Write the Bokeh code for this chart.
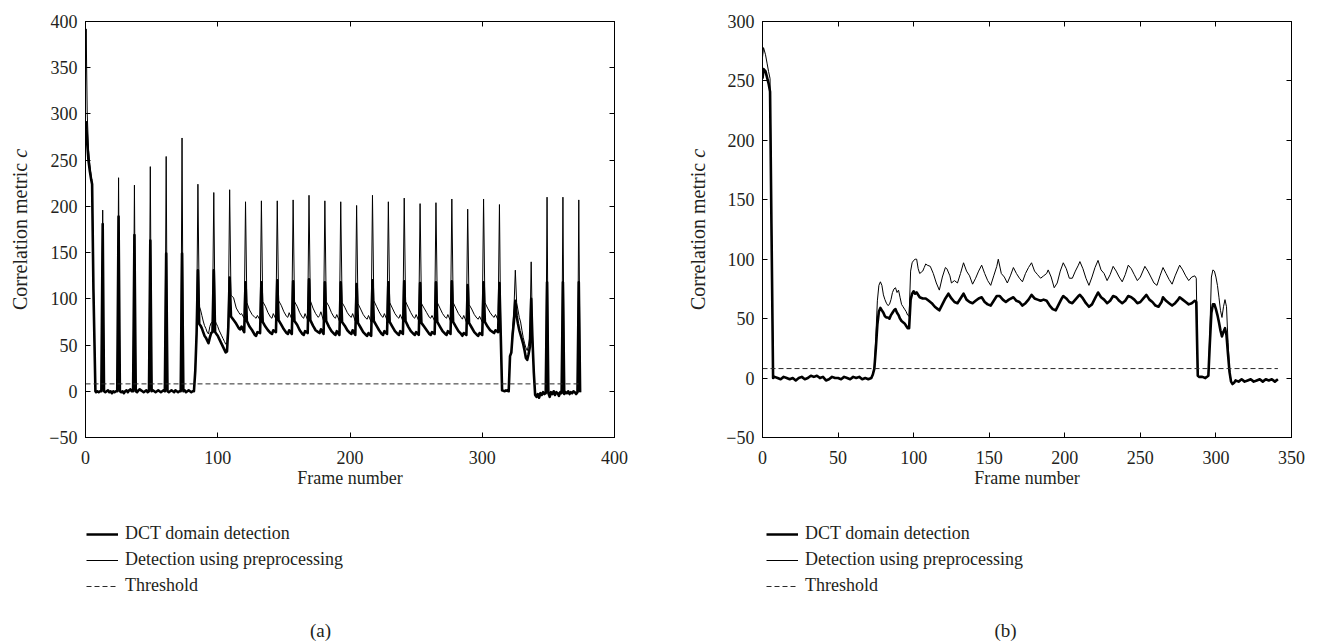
from math import pi
from bokeh.plotting import figure
from bokeh.models import Range1d, LinearAxis, Legend, LegendItem, Label, FixedTicker
from bokeh.layouts import row, column
from bokeh.embed import file_html
from bokeh.resources import INLINE

FONT = "Liberation Serif"
TXT = "#231f20"

# ---------------- data (frame, value) ----------------
threshold = 8

# panel (a)
a_dct = [
    (0, 283), (0.5, 291), (1.3, 268), (2.3, 249), (3.3, 238), (4.3, 229), (5, 224), (6, 110), (7.5, 0),
    (8, -1), (9, 0), (10, -1), (11, 0), (12, 0), (13, 181), (14, 0), (15, -1), (16, 0), (17, 1), (18, -1),
    (19, 0), (20, -2), (21, 0), (22, -1), (23, 0), (24, 0),
    (25, 189), (26, 0), (27, -1), (28, 0), (29, -2), (30, 0), (31, 1), (32, -1), (33, 1), (34, 2), (35, 0), (36, 0),
    (37, 169), (38, 0), (39, -1), (40, 1), (41, 2), (42, 1), (43, 0), (44, -1), (45, 0), (46, 1), (47, -1), (48, 0),
    (49, 163), (50, 0), (51, 1), (52, 0), (53, -1), (54, 0), (55, 1), (56, 0), (57, -1), (58, 0), (59, 1), (60, 0),
    (61, 149), (62, 0), (63, -1), (64, 0), (65, 1), (66, 0), (67, -1), (68, 1), (69, 0), (70, -1), (71, 0), (72, 0),
    (73, 149), (74, 0), (75, 1), (76, -1), (77, 0), (78, 1), (79, 0), (80, -1), (81, 0), (82, 0),
    (83, 22), (84, 62), (85, 131), (86, 73), (87, 71), (88, 68), (89, 64), (90, 60), (91, 58), (92, 55),
    (93, 52), (94, 58), (95, 63), (96, 64),
    (97, 131), (98, 64), (99, 62), (100, 60), (101, 57), (102, 54), (103, 51), (104, 48), (105, 45), (106, 42),
    (107, 43), (108, 70),
    (109, 123), (110, 81), (112, 77), (114, 73), (116, 68), (117, 67), (118, 70), (120, 64),
    (121, 118), (122, 76), (124, 70), (126, 66), (128, 61), (129, 60), (130, 64), (132, 63),
    (133, 118), (134, 75), (136, 70), (138, 66), (140, 63), (141, 62), (142, 66), (144, 64),
    (145, 120), (146, 77), (148, 72), (150, 67), (152, 63), (153, 62), (154, 66), (156, 62),
    (157, 119), (158, 76), (160, 72), (162, 66), (164, 62), (165, 61), (166, 65), (168, 63),
    (169, 121), (170, 77), (172, 71), (174, 66), (176, 64), (177, 63), (178, 67), (180, 62),
    (181, 118), (182, 76), (184, 70), (186, 65), (188, 62), (189, 61), (190, 65), (192, 61),
    (193, 118), (194, 75), (196, 71), (198, 66), (200, 63), (201, 62), (202, 66), (204, 61),
    (205, 116), (206, 74), (208, 69), (210, 64), (212, 61), (213, 60), (214, 63), (216, 60),
    (217, 120), (218, 76), (220, 71), (222, 66), (224, 62), (225, 61), (226, 65), (228, 62),
    (229, 118), (230, 75), (232, 70), (234, 65), (236, 62), (237, 61), (238, 65), (240, 62),
    (241, 119), (242, 76), (244, 70), (246, 65), (248, 62), (249, 61), (250, 64), (252, 61),
    (253, 117), (254, 74), (256, 70), (258, 66), (260, 62), (261, 61), (262, 64), (264, 62),
    (265, 118), (266, 75), (268, 70), (270, 65), (272, 62), (273, 61), (274, 65), (276, 62),
    (277, 119), (278, 75), (280, 70), (282, 65), (284, 62), (285, 60), (286, 63), (288, 61),
    (289, 115), (290, 74), (292, 69), (294, 64), (296, 61), (297, 60), (298, 63), (300, 61),
    (301, 118), (302, 75), (304, 70), (306, 66), (308, 64), (309, 63), (310, 66), (312, 64),
    (313, 117), (314, 60), (315, 1), (317, 0), (318, 1), (320, 0), (321, 38), (322, 42), (323, 62), (324, 76),
    (325, 98), (326, 82), (327, 73), (328, 66), (330, 56), (331, 51), (332, 44), (333, 36), (334, 34),
    (335, 40), (336, 48),
    (337, 100), (338, 55), (339, 20), (340, -4), (341, -6), (342, -3), (343, -7), (344, -2), (345, -4),
    (346, -1), (347, -3), (348, -2),
    (349, 118), (350, -2), (351, -6), (352, -1), (353, -3), (354, 0), (355, -4), (356, -1), (357, -2),
    (358, -5), (359, -1), (360, -2),
    (361, 118), (362, -3), (363, -1), (364, -2), (365, 0), (366, -3), (367, -1), (368, -2), (369, 0),
    (370, -1), (371, -3), (372, -1),
    (373, 118), (374, -1),
]

a_pre = [
    (0, 330), (0.5, 392), (1.3, 300), (2.3, 262), (3.3, 245), (4.3, 233), (5, 226), (6, 112), (7.5, 0),
    (8, -1), (9, 0), (10, -1), (11, 0), (12, 0), (13, 196), (14, 0), (15, -1), (16, 0), (17, 1), (18, -1),
    (19, 0), (20, -2), (21, 0), (22, -1), (23, 0), (24, 0),
    (25, 231), (26, 0), (27, -1), (28, 0), (29, -2), (30, 0), (31, 1), (32, -1), (33, 1), (34, 2), (35, 0), (36, 0),
    (37, 223), (38, 0), (39, -1), (40, 1), (41, 2), (42, 1), (43, 0), (44, -1), (45, 0), (46, 1), (47, -1), (48, 0),
    (49, 243), (50, 0), (51, 1), (52, 0), (53, -1), (54, 0), (55, 1), (56, 0), (57, -1), (58, 0), (59, 1), (60, 0),
    (61, 254), (62, 0), (63, -1), (64, 0), (65, 1), (66, 0), (67, -1), (68, 1), (69, 0), (70, -1), (71, 0), (72, 0),
    (73, 274), (74, 0), (75, 1), (76, -1), (77, 0), (78, 1), (79, 0), (80, -1), (81, 0), (82, 0),
    (83, 24), (84, 66), (85, 224), (86, 92), (87, 88), (88, 82), (89, 76), (90, 71), (91, 68), (92, 64),
    (93, 62), (94, 70), (95, 74), (96, 75),
    (97, 215), (98, 76), (99, 73), (100, 70), (101, 66), (102, 63), (103, 60), (104, 57), (105, 54), (106, 51),
    (107, 52), (108, 80),
    (109, 218), (110, 104), (112, 101), (114, 90), (116, 85), (117, 83), (118, 84), (120, 79),
    (121, 205), (122, 96), (124, 88), (126, 83), (128, 80), (129, 79), (130, 82), (132, 77),
    (133, 206), (134, 97), (136, 92), (138, 85), (140, 80), (141, 79), (142, 84), (144, 78),
    (145, 206), (146, 98), (148, 93), (150, 86), (152, 81), (153, 80), (154, 85), (156, 78),
    (157, 207), (158, 97), (160, 92), (162, 85), (164, 80), (165, 79), (166, 84), (168, 77),
    (169, 212), (170, 98), (172, 90), (174, 84), (176, 80), (177, 82), (178, 86), (180, 76),
    (181, 206), (182, 97), (184, 92), (186, 85), (188, 80), (189, 79), (190, 83), (192, 76),
    (193, 205), (194, 96), (196, 91), (198, 85), (200, 81), (201, 80), (202, 84), (204, 76),
    (205, 201), (206, 95), (208, 89), (210, 83), (212, 79), (213, 78), (214, 82), (216, 75),
    (217, 212), (218, 98), (220, 92), (222, 86), (224, 81), (225, 80), (226, 84), (228, 77),
    (229, 205), (230, 96), (232, 90), (234, 84), (236, 80), (237, 79), (238, 83), (240, 76),
    (241, 209), (242, 97), (244, 91), (246, 85), (248, 80), (249, 79), (250, 83), (252, 76),
    (253, 203), (254, 95), (256, 90), (258, 85), (260, 80), (261, 79), (262, 82), (264, 76),
    (265, 204), (266, 96), (268, 90), (270, 84), (272, 80), (273, 79), (274, 83), (276, 76),
    (277, 208), (278, 96), (280, 90), (282, 84), (284, 80), (285, 78), (286, 82), (288, 75),
    (289, 197), (290, 94), (292, 89), (294, 83), (296, 79), (297, 78), (298, 81), (300, 75),
    (301, 208), (302, 96), (304, 90), (306, 85), (308, 81), (309, 80), (310, 83), (312, 77),
    (313, 202), (314, 60), (315, 1), (317, 0), (318, 1), (320, 0), (321, 38), (322, 42), (323, 70), (324, 90),
    (325, 131), (326, 96), (327, 88), (328, 80), (329, 75), (330, 66), (331, 58), (332, 52), (333, 47),
    (334, 44), (335, 50), (336, 59),
    (337, 140), (338, 60), (339, 20), (340, -4), (341, -6), (342, -3), (343, -7), (344, -2), (345, -4),
    (346, -1), (347, -3), (348, -2),
    (349, 210), (350, -2), (351, -6), (352, -1), (353, -3), (354, 0), (355, -4), (356, -1), (357, -2),
    (358, -5), (359, -1), (360, -2),
    (361, 210), (362, -3), (363, -1), (364, -2), (365, 0), (366, -3), (367, -1), (368, -2), (369, 0),
    (370, -1), (371, -3), (372, -1),
    (373, 207), (374, -1),
]

# panel (b)
b_dct = [
    (0, 252), (0.7, 260), (2, 258), (3, 253), (4, 248), (5, 241), (6, 120), (7, 0), (8, 1), (10, 0),
    (12, -1), (14, 1), (16, 0), (18, -1), (20, 0), (22, -2), (24, 0), (26, 1), (28, -1), (30, 0), (32, 2),
    (34, 1), (36, 2), (38, 0), (40, 1), (42, -2), (44, -1), (46, 1), (48, 0), (50, 0), (52, -1), (54, 1),
    (56, 0), (58, -1), (60, 1), (62, 0), (64, 1), (66, -1), (68, 0), (70, -1), (72, 0),
    (73, 3), (74, 8), (75, 25), (76, 45), (77, 56), (78, 59), (79, 57), (80, 55), (81, 52), (82, 51),
    (83, 51), (84, 50), (85, 53), (86, 55), (87, 57), (88, 58), (89, 55), (90, 53), (91, 50), (92, 48),
    (93, 47), (94, 46), (95, 44), (96, 42), (97, 42),
    (98, 66), (99, 71), (100, 73), (101, 71), (102, 72), (104, 68), (106, 67), (108, 67), (110, 65),
    (112, 63), (114, 60), (116, 58), (117, 57), (119, 62), (121, 67), (123, 71), (125, 67), (127, 64),
    (129, 63), (131, 67), (133, 71), (135, 66), (137, 64), (139, 63), (141, 65), (143, 67), (145, 68),
    (147, 64), (149, 62), (151, 61), (153, 65), (155, 69), (157, 69), (159, 66), (161, 64), (163, 66),
    (166, 68), (168, 65), (170, 64), (172, 61), (174, 63), (176, 66), (178, 70), (180, 67), (182, 66),
    (184, 65), (186, 66), (188, 65), (190, 61), (192, 58), (194, 57), (196, 62), (198, 67), (199, 69),
    (201, 67), (203, 64), (205, 63), (207, 66), (209, 69), (210, 70), (212, 67), (214, 63), (216, 60),
    (218, 62), (220, 67), (222, 72), (224, 68), (226, 66), (228, 63), (230, 65), (232, 69), (234, 68),
    (236, 65), (238, 63), (240, 65), (242, 69), (244, 68), (246, 66), (248, 63), (250, 64), (252, 67),
    (254, 70), (256, 66), (258, 64), (260, 61), (262, 60), (264, 64), (265, 68), (267, 65), (269, 63),
    (271, 61), (273, 63), (275, 66), (276, 68), (278, 66), (280, 64), (282, 62), (284, 63), (286, 65),
    (287, 64),
    (288, 2), (289, 1), (291, 1), (293, 0), (295, 2), (296, 30), (297, 55), (298, 62), (299, 62), (300, 58),
    (301, 53), (302, 47), (303, 40), (304, 35), (305, 39), (306, 42), (307, 36), (308, 20), (309, 5),
    (310, -3), (311, -5), (312, -4), (313, -2), (315, -3), (317, -1), (319, -3), (321, -2), (323, -1),
    (325, -3), (327, -2), (329, -1), (331, -3), (333, -1), (335, -2), (337, -1), (339, -3), (341, -1),
]

b_pre = [
    (0, 270), (0.7, 278), (2, 272), (3, 265), (4, 258), (5, 252), (6, 125), (7, 0), (8, 1), (10, 0),
    (12, -1), (14, 1), (16, 0), (18, -1), (20, 0), (22, -2), (24, 0), (26, 1), (28, -1), (30, 0), (32, 2),
    (34, 1), (36, 2), (38, 0), (40, 1), (42, -2), (44, -1), (46, 1), (48, 0), (50, 0), (52, -1), (54, 1),
    (56, 0), (58, -1), (60, 1), (62, 0), (64, 1), (66, -1), (68, 0), (70, -1), (72, 0),
    (73, 3), (74, 10), (75, 35), (76, 65), (77, 78), (78, 81), (79, 78), (80, 70), (81, 66), (82, 63),
    (83, 61), (84, 62), (85, 66), (86, 72), (87, 75), (88, 76), (89, 72), (90, 74), (91, 68), (92, 62),
    (93, 60), (94, 58), (95, 56), (96, 53), (97, 52),
    (98, 90), (99, 97), (100, 99), (101, 100), (102, 100), (103, 92), (104, 88), (105, 89), (106, 90),
    (107, 93), (108, 96), (109, 95), (111, 94), (113, 88), (115, 80), (117, 74), (119, 85), (121, 93),
    (122, 92), (124, 86), (125, 80), (127, 82), (129, 80), (131, 88), (133, 97), (135, 90), (137, 86),
    (139, 79), (141, 84), (143, 90), (145, 95), (147, 88), (149, 82), (151, 78), (153, 86), (155, 94),
    (156, 100), (158, 88), (160, 85), (162, 80), (164, 86), (166, 93), (168, 88), (170, 84), (172, 81),
    (174, 88), (176, 93), (178, 97), (180, 90), (182, 87), (184, 84), (186, 86), (188, 88), (189, 91),
    (191, 85), (193, 76), (195, 80), (197, 90), (199, 97), (201, 92), (203, 84), (205, 84), (207, 90),
    (209, 95), (210, 98), (212, 92), (214, 84), (216, 78), (218, 85), (220, 93), (222, 99), (224, 91),
    (226, 88), (228, 82), (230, 87), (232, 94), (234, 90), (236, 85), (238, 81), (240, 87), (242, 95),
    (244, 92), (246, 87), (248, 82), (250, 85), (253, 94), (255, 90), (257, 85), (259, 80), (261, 78),
    (263, 86), (265, 93), (267, 88), (269, 83), (271, 79), (273, 86), (276, 95), (278, 91), (280, 86),
    (282, 82), (284, 85), (286, 86), (287, 84),
    (288, 2), (289, 1), (291, 1), (293, 0), (295, 2), (296, 40), (297, 85), (298, 91), (299, 90), (300, 85),
    (301, 78), (302, 68), (303, 57), (304, 51), (305, 60), (306, 66), (307, 60), (308, 30), (309, 8),
    (310, -3), (311, -5), (312, -4), (313, -2), (315, -3), (317, -1), (319, -3), (321, -2), (323, -1),
    (325, -3), (327, -2), (329, -1), (331, -3), (333, -1), (335, -2), (337, -1), (339, -3), (341, -1),
]

a_xticks = [0, 100, 200, 300, 400]
a_yticks = [-50, 0, 50, 100, 150, 200, 250, 300, 350, 400]
b_xticks = [0, 50, 100, 150, 200, 250, 300, 350]
b_yticks = [-50, 0, 50, 100, 150, 200, 250, 300]

legend_labels = ["DCT domain detection", "Detection using preprocessing", "Threshold"]
y_title = ["Correlation metric", "c"]
x_title = "Frame number"

PAGE_H = 642
TOP_H = 505
BOT_H = PAGE_H - TOP_H
FRAME_W = 529
NAN = float("nan")


def fmt(t):
    return f"\u2212{abs(t)}" if t < 0 else str(t)


def style_axis(ax, ticks, show, standoff=7):
    ax.ticker = FixedTicker(ticks=ticks)
    ax.major_tick_in = 5
    ax.major_tick_out = 0
    ax.minor_tick_line_color = None
    ax.axis_line_color = "black"
    ax.axis_line_width = 1
    ax.major_tick_line_color = "black"
    ax.major_label_text_font = FONT
    ax.major_label_text_font_size = "18px"
    ax.major_label_text_color = TXT
    if show:
        ax.major_label_overrides = {t: fmt(t) for t in ticks}
        ax.major_label_standoff = standoff
    else:
        ax.major_label_overrides = {t: "" for t in ticks}
        ax.major_label_standoff = 0


def make_plot(dct, pre, xticks, yticks, width, bl, br):
    p = figure(width=width, height=TOP_H,
               x_range=Range1d(xticks[0], xticks[-1]), y_range=Range1d(yticks[0], yticks[-1]),
               output_backend="svg", toolbar_location=None,
               min_border_left=bl, min_border_right=br, min_border_top=21,
               min_border_bottom=TOP_H - 21 - 416)
    p.xgrid.visible = False
    p.ygrid.visible = False
    p.outline_line_color = "black"

    xa = p.xaxis[0]
    style_axis(xa, xticks, True, standoff=13)
    xa.axis_label = x_title
    xa.axis_label_text_font = FONT
    xa.axis_label_text_font_size = "18px"
    xa.axis_label_text_font_style = "normal"
    xa.axis_label_text_color = TXT
    xa.axis_label_standoff = 1

    style_axis(p.yaxis[0], yticks, True, standoff=8)

    top = LinearAxis()
    style_axis(top, xticks, False)
    p.add_layout(top, "above")
    right = LinearAxis()
    style_axis(right, yticks, False)
    p.add_layout(right, "right")

    dx = [f for f, v in dct]
    dy = [v for f, v in dct]
    px = [f for f, v in pre]
    py = [v for f, v in pre]
    p.line(dx, dy, line_color="black", line_width=2.6, line_join="round")
    p.line(px, py, line_color="black", line_width=1, line_join="round")
    p.line([dx[0], dx[-1]], [threshold, threshold], line_color="#2a2a2a",
           line_width=1, line_dash="5 3")
    return p


def make_bottom(width, bl, br, leg_x, cap_x, caption):
    b = figure(width=width, height=BOT_H, x_range=Range1d(0, FRAME_W), y_range=Range1d(BOT_H, 0),
               output_backend="svg", toolbar_location=None,
               min_border_left=bl, min_border_right=br, min_border_top=0, min_border_bottom=0,
               x_axis_location=None, y_axis_location=None)
    b.outline_line_color = None
    b.xgrid.visible = False
    b.ygrid.visible = False
    # legend proxies (no visible points)
    r1 = b.line([0, 1], [NAN, NAN], line_color="black", line_width=2.6)
    r2 = b.line([0, 1], [NAN, NAN], line_color="black", line_width=1)
    r3 = b.line([0, 1], [NAN, NAN], line_color="#2a2a2a", line_width=1, line_dash="5 3")
    legend = Legend(items=[LegendItem(label=legend_labels[0], renderers=[r1]),
                           LegendItem(label=legend_labels[1], renderers=[r2]),
                           LegendItem(label=legend_labels[2], renderers=[r3])],
                    location=(leg_x, BOT_H - 91), orientation="vertical",
                    label_text_font=FONT, label_text_font_size="18px", label_text_color=TXT,
                    glyph_width=32, glyph_height=20, label_height=20, spacing=5,
                    padding=0, margin=0, border_line_color=None, background_fill_alpha=0,
                    label_standoff=7)
    b.add_layout(legend)
    b.add_layout(Label(x=cap_x, y=125, text=caption, text_align="center", text_baseline="middle",
                       text_font=FONT, text_font_size="19px", text_color=TXT))
    return b


def make_ylabel(width, cx):
    f = figure(width=width, height=PAGE_H, x_range=Range1d(0, width), y_range=Range1d(PAGE_H, 0),
               output_backend="svg", toolbar_location=None, min_border=0,
               x_axis_location=None, y_axis_location=None)
    f.outline_line_color = None
    f.xgrid.visible = False
    f.ygrid.visible = False
    fs = 20
    w1 = 7.61 * fs          # "Correlation metric " in Times metrics
    w2 = 0.444 * fs         # italic "c"
    start = 229 + (w1 + w2) / 2
    f.add_layout(Label(x=cx, y=start, text=y_title[0], angle=pi / 2, text_align="left",
                       text_baseline="middle", text_font=FONT, text_font_size=f"{fs}px",
                       text_color=TXT))
    f.add_layout(Label(x=cx, y=start - w1, text=y_title[1], angle=pi / 2, text_align="left",
                       text_baseline="middle", text_font=FONT, text_font_size=f"{fs}px",
                       text_font_style="italic", text_color=TXT))
    return f


yl1 = make_ylabel(40, 19)
p1 = make_plot(a_dct, a_pre, a_xticks, a_yticks, 620, 45, 46)
b1 = make_bottom(620, 45, 46, 1, 235, "(a)")
yl2 = make_ylabel(60, 37)
p2 = make_plot(b_dct, b_pre, b_xticks, b_yticks, 599, 42, 28)
b2 = make_bottom(599, 42, 28, 4, 243, "(b)")

layout = row(yl1, column(p1, b1), yl2, column(p2, b2))
open("out.html", "w").write(file_html(layout, INLINE))
